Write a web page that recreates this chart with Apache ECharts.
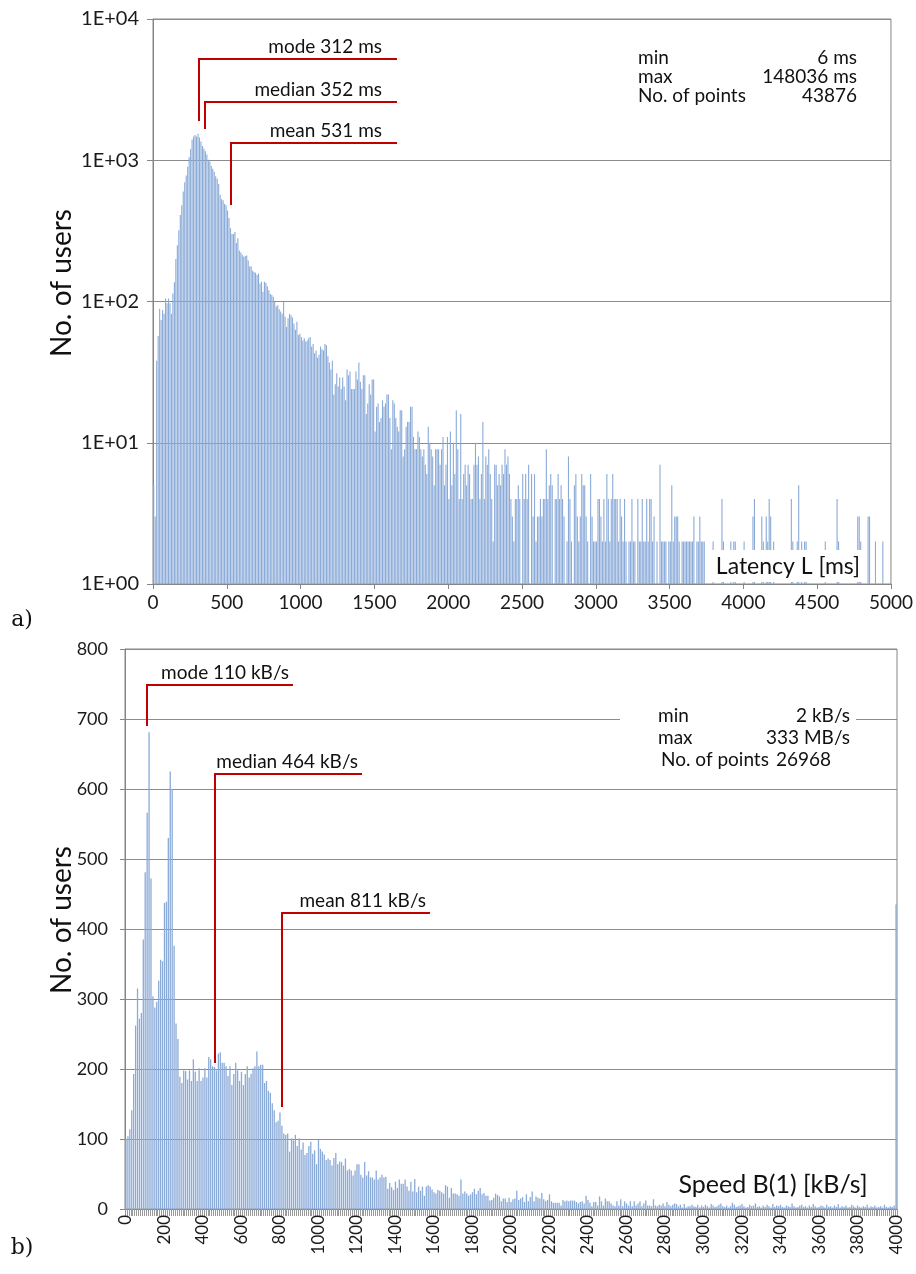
<!DOCTYPE html>
<html>
<head>
<meta charset="utf-8">
<script src="https://cdn.jsdelivr.net/npm/echarts@6/dist/echarts.min.js"></script>
<style>
html,body{margin:0;padding:0;background:#fff;}
#main{width:916px;height:1274px;}
</style>
</head>
<body>
<div id="main"></div>
<script>
// a) latency histogram, 10 ms bins (0..4990 ms), No. of users per bin
var latencyHead = [5,3,38,57,89,74,87,82,105,97,
	105,97,82,114,137,200,250,320,410,480,
	600,700,780,900,1050,1200,1400,1470,1510,1470,
	1540,1450,1360,1260,1210,1160,1100,1010,980,910,
	870,830,770,740,680,570,530,520,490,480,
	440,390,330,300,300,310,260,280,230,222,
	214,207,210,212,195,177,178,165,162,160,
	154,158,134,138,117,138,135,128,120,113,
	111,108,99,92,94,88,85,82,99,78,
	66,76,82,80,77,70,63,72,58,59,
	56,53,55,52,53,55,56,48,50,43,
	45,40,42,48,46,45,50,49,41,37,
	33,38,22,26,31,25,29,24,29,25,
	20,33,30];
var latencyMid = [32,24,24,24,32,28,37,
	27,24,30,30,16,19,26,22,28,28,
	12,18,19,14,15,20,18,19,22,22,
	15,9,20,19,15,13,12,17,17,8,
	9,13,14,14,18,18,11,9,9,12,
	11];
var latencyLate = [9,8,9,7,6,13,10,9,8,
	5,9,9,9,7,9,11,5,7,11,
	4,12,5,10,6,17,9,4,16,4,
	6,7,5,7,6,4,4,7,10,7,
	8,4,6,14,4,8,7,9,6,4,
	2,7,7,5,6,5,7,6,9,7,
	8,6,4,3,2,4,4,5,4,1,
	6,4,6,4,7,1,6,3,6,2,
	3,3,4,3,4,4,9,4,5,6,
	5,1,4,4,6,4,5,4,3,1,
	2,8,4,2,1,5,6,3,2,3,
	6,5,5,3,2,1,6,3,2,2,
	2,4,4];
var latencyTail = [3,2,4,2,6,4,2,
	4,6,4,4,4,2,4,3,2,4,
	2,1,2,2,4,2,2,1,4,2,
	2,4,2,2,4,2,4,4,2,3,
	1,2,1,7,2,2,2,2,1,2,
	2,5,2,3,3,3,2,1,2,2,
	2,2,2,2,2,2,3,1,2,2,
	3,2,2,2,1];
var latencyEnd = [1,1,1,1,2,
	1,1,1,1,1,4,2,1,1,1,
	1,2,1,2,2,1,1,1,1,1,
	2,1,1,1,1,1,3,4,1,1,
	1,1,3,2,1,3,2,4,3,1,
	2,1,1,1,1,1,1,1,1,1,
	1,1,4,2,1,1,2,5,1,2,
	1,2,2,1,1,1,1,1,1,1,
	1,1,1,1,1,2,1,1,1,1,
	1,1,1,4,2,1,1,1,1,1,
	1,1,1,1,1,1,1,3,3,2,
	1,1,1,1,3,3,1,1,1,2,
	1,1,1,1,2,1,1,1,1,1];
var latencyCounts = [].concat(latencyHead, latencyMid, latencyLate, latencyTail, latencyEnd);
var latencyBin = 10;

// b) speed histogram, 10 kB/s bins (0..4000 kB/s)
var speedHead = [100,104,114,141,193,262,315,272,280,385,
	481,566,681,472,304,288,296,326,356,354,
	437,439,530,625,600,376,265,243,189,180,
	198,197,185,198,183,214,196,183,201,183,
	188,201,188,217,214,204,203,198,222,224,
	209,209,204,190,204,177,193,209,198,183,
	196,177,193,204,188,193,201,204,225,204,
	206,206,180,183,169,166,151,141,124,126,
	138,119,108,106,108,82,101,98,106,90,
	101];
var speedMid = [85,95,77,80,90,
	96,79,84,64,99,86,82,78,70,72,
	70,62,73,80,64,68,67,62,72,55,
	57,55,48,55,64,64,49,45,67,48,
	54,45,45,42,55,42,45,49,45,46,
	29,37,31,27,39,30,42,36,36,42,
	32,26,39,25,43,24,32,26,32,19,
	32,34,32,28,24,22,27,26,24,22,
	34,32,16,30,22,22,21,19,42,22,
	25,22,19,21,24,29,21,26,30,21,
	23,19,19,12,13,16,22,20];
var speedLate = [18,11,15,15,10,16,10,14,15,26,
	13,15,17,10,21,11,17,25,11,18,
	16,15,23,14,11,13,21,11,9,9,
	9,9,5,13,11,12,11,12,12,12,
	10,8,10,11,8,19,13,9,4,10,
	10,5,18,11,5,15,11,11,8,5,
	4,11,5,14,4,11,8,5,11,4,
	11,5,8,11,4,8,12,5,5,4,
	14,5,4,6,5,8,4,10,6,4,
	6,8,7,4,6,2,7,2,4,4,
	6,4,3,6,2];
var speedTail = [5,3,6,4,2,7,5,3,4,6,
	8,4,3,5,2,4,9,6,3,4,
	5,7,4,2,3,6,4,5,8,3,
	4,2,5,3,6,4,2,7,3,5,
	4,6,3,2,5,4,3,8,4,2,
	3,5,6,3,4,2,5,3,7,4,
	2,3,5,4,2,6,3,4,2,5,
	3,7,2,4,3,5,2,3,6,4,
	2,5,3,2,4,3,6,2,4,3,
	5,2,3,4,2,6,3,2,4,3,
	5];
var speedOver = [435];   // last bin, 4000 kB/s and above
var speedCounts = [].concat(speedHead, speedMid, speedLate, speedTail, speedOver);
var speedBin = 10;
var speedCats = [];
for (var i=0;i<speedCounts.length;i++){ speedCats.push(String(i*speedBin)); }

// annotations (x in ms / kB/s, levels in No. of users)
var latencyMarks = [
	{text:'mode 312 ms',   x:312, level:5200, bar:1890},
	{text:'median 352 ms', x:352, level:2580, bar:1660},
	{text:'mean 531 ms',   x:531, level:1320, bar:480}
];
var latencyMarkEnd = 1655;
var speedMarks = [
	{text:'mode 110 kB/s',   x:110, level:749, bar:690, end:868},
	{text:'median 464 kB/s', x:464, level:621, bar:209, end:1226},
	{text:'mean 811 kB/s',   x:811, level:423, bar:146, end:1579}
];
var latencyStats = [['min','6 ms'],['max','148036 ms'],['No. of points','43876']];
var speedStats = [['min','2 kB/s'],['max','333 MB/s'],['No. of points','26968']];

var FONT = 'Lato, Carlito, "Open Sans", sans-serif';
var BAR = '#8aaad8';
var GRID = '#8c8c8c';
var AXIS = '#868686';

var myChart = echarts.init(document.getElementById('main'), null, {renderer:'canvas'});

var option = {
	animation: false,
	backgroundColor: '#fff',
	textStyle: {fontFamily: FONT},
	grid: [
		{left:153, top:19, width:740, height:565, show:true, borderColor:AXIS, borderWidth:1, backgroundColor:'transparent'},
		{left:125, top:649, width:772, height:560, show:true, borderColor:AXIS, borderWidth:1, backgroundColor:'transparent'}
	],
	xAxis: [
		{
			type:'value', gridIndex:0, min:0, max:5000, interval:500,
			axisLine:{show:true, onZero:false, lineStyle:{color:AXIS, width:1}},
			axisTick:{show:true, length:5, lineStyle:{color:AXIS}},
			axisLabel:{fontSize:19, color:'#1a1a1a', margin:9, fontFamily:FONT,
				formatter:function(v){ return String(v); }},
			splitLine:{show:false}
		},
		{
			type:'category', gridIndex:1, data:speedCats,
			axisLine:{show:true, lineStyle:{color:AXIS, width:1}},
			axisTick:{show:true, interval:0, length:7, lineStyle:{color:'#9a9a9a'}},
			axisLabel:{interval:19, rotate:90, fontSize:17, color:'#1a1a1a', margin:6, fontFamily:FONT},
			splitLine:{show:false}
		}
	],
	yAxis: [
		{
			type:'log', gridIndex:0, logBase:10, min:1, max:10000,
			axisLine:{show:true, lineStyle:{color:AXIS}},
			axisTick:{show:true, length:6, lineStyle:{color:AXIS}},
			axisLabel:{fontSize:20, color:'#1a1a1a', margin:14, fontFamily:FONT,
				formatter:function(v){ return '1E+0' + Math.round(Math.log(v)/Math.LN10); }},
			splitLine:{show:true, lineStyle:{color:GRID, width:1}}
		},
		{
			type:'value', gridIndex:1, min:0, max:800, interval:100,
			axisLine:{show:true, lineStyle:{color:AXIS}},
			axisTick:{show:true, length:5, lineStyle:{color:AXIS}},
			axisLabel:{fontSize:18, color:'#1a1a1a', margin:17, fontFamily:FONT},
			splitLine:{show:true, lineStyle:{color:GRID, width:1}}
		}
	],
	series: [
		{
			type:'bar', xAxisIndex:0, yAxisIndex:0, barWidth:1.1,
			itemStyle:{color:BAR}, silent:true,
			data: latencyCounts.map(function(v,i){ return [i*latencyBin + latencyBin/2, v]; })
		},
		{
			type:'bar', xAxisIndex:1, yAxisIndex:1, barWidth:1.3,
			itemStyle:{color:BAR}, silent:true,
			data: speedCounts
		}
	]
};
myChart.setOption(option);

// ---- overlay texts, boxes and the red brackets ----
var g = [];
function txt(x, y, s, size, align, extra){
	var o = {type:'text', x:x, y:y, z:100, silent:true,
		style:{text:s, fill:'#111', font:size+'px '+FONT, fontSize:size, fontFamily:FONT,
			textAlign:align||'left', align:align||'left', textVerticalAlign:'middle', verticalAlign:'middle'}};
	if (extra){ for (var k in extra) o[k]=extra[k]; }
	return o;
}
function box(x, y, w, h){
	return {type:'rect', z:90, silent:true, shape:{x:x, y:y, width:w, height:h}, style:{fill:'#fff', stroke:null}};
}

// axis names and panel letters
g.push(txt(62, 283, 'No. of users', 28, 'center', {rotation:Math.PI/2}));
g.push(txt(62, 920, 'No. of users', 28, 'center', {rotation:Math.PI/2}));
g.push({type:'text', x:22, y:620, z:100, style:{text:'a)', fill:'#111', font:'22px "DejaVu Serif", serif', textAlign:'center', align:'center', textVerticalAlign:'middle', verticalAlign:'middle'}});
g.push({type:'text', x:22, y:1248, z:100, style:{text:'b)', fill:'#111', font:'22px "DejaVu Serif", serif', textAlign:'center', align:'center', textVerticalAlign:'middle', verticalAlign:'middle'}});

// stats panel a
for (var r=0;r<latencyStats.length;r++){
	g.push(txt(638, 58 + r*19, latencyStats[r][0], 19, 'left'));
	g.push(txt(857, 58 + r*19, latencyStats[r][1], 19, 'right'));
}
// stats panel b (white box hides the 700 gridline)
g.push(box(620, 692, 236, 80));
for (var r2=0;r2<speedStats.length;r2++){
	g.push(txt(r2==2 ? 661 : 658, 716 + r2*22, speedStats[r2][0], 19, 'left'));
	g.push(txt(r2==2 ? 831 : 850, 716 + r2*22, speedStats[r2][1], 19, 'right'));
}
// axis titles inside plots
g.push(box(712, 550, 153, 32));
g.push(txt(788, 567, 'Latency L [ms]', 23, 'center'));
g.push(txt(773, 1185, 'Speed B(1) [kB/s]', 25, 'center'));

// red brackets
var RED = '#c00000';
function bracket(x0, yTop, yBar, xEnd, label, pad){
	g.push({type:'polyline', z:95, silent:true,
		shape:{points:[[xEnd, yTop],[x0, yTop],[x0, yBar]]},
		style:{stroke:RED, lineWidth:2, fill:null}});
	g.push({type:'text', x:xEnd - pad, y:yTop - 3, z:100, silent:true,
		style:{text:label, fill:'#111', font:'19px '+FONT, textAlign:'right', align:'right',
			textVerticalAlign:'bottom', verticalAlign:'bottom'}});
}
latencyMarks.forEach(function(m){
	var p0 = myChart.convertToPixel({gridIndex:0}, [m.x, m.level]);
	var p1 = myChart.convertToPixel({gridIndex:0}, [m.x, m.bar]);
	var pe = myChart.convertToPixel({gridIndex:0}, [latencyMarkEnd, m.level]);
	bracket(Math.round(p0[0]), Math.round(p0[1]), Math.round(p1[1]), Math.round(pe[0]), m.text, 15);
});
function speedPx(v){
	var idx = v / speedBin, i0 = Math.floor(idx), f = idx - i0;
	var a = myChart.convertToPixel({xAxisIndex:1}, i0);
	var b = myChart.convertToPixel({xAxisIndex:1}, i0 + 1);
	return a + (b - a) * f;
}
speedMarks.forEach(function(m){
	var x0 = speedPx(m.x), xe = speedPx(m.end);
	var yt = myChart.convertToPixel({yAxisIndex:1}, m.level);
	var yb = myChart.convertToPixel({yAxisIndex:1}, m.bar);
	bracket(Math.round(x0), Math.round(yt), Math.round(yb), Math.round(xe), m.text, 4);
});

myChart.setOption({graphic: g});
</script>
</body>
</html>
